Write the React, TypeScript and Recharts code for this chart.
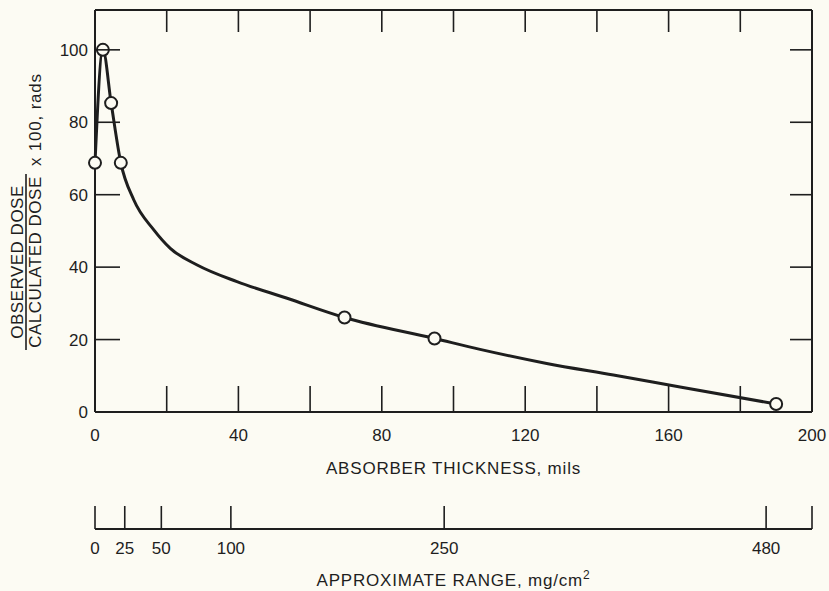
import { ComposedChart, Line, Scatter, XAxis, YAxis, Label } from 'recharts'

// curve (absorber thickness in mils, dose ratio x100)
const curveMils = [0, 2.2, 4.5, 7.2, 10.8, 16.4, 21, 28.5, 39.6, 53.6, 69.6, 94.7, 107.4, 126, 144.6, 163.2, 190]
const curveDose = [68.8, 100, 85.3, 68.8, 58.6, 50.3, 45.2, 40.6, 36, 31.4, 26.1, 20.3, 17.3, 13.4, 10.2, 6.9, 2.2]

// measured points (open circles)
const pointMils = [0, 2.2, 4.5, 7.2, 69.6, 94.7, 190]
const pointDose = [68.8, 100, 85.3, 68.8, 26.1, 20.3, 2.2]

const milsTicks = [0, 20, 40, 60, 80, 100, 120, 140, 160, 180, 200]
const doseTicks = [0, 20, 40, 60, 80, 100]

// secondary scale: approximate range in mg/cm2, placed at the matching thickness
const rangeLabels = ['0', '25', '50', '100', '250', '480', '']
const rangeAtMils = [0, 8.3, 18.5, 37.9, 97.4, 187.2, 200]

const curveData = curveMils.map((x, i) => ({ x, y: curveDose[i] }))
const pointData = pointMils.map((x, i) => ({ x, y: pointDose[i] }))

const ink = '#1e1e1e'
const paper = '#fcfbf3'
const font = '"Liberation Sans", Arial, Helvetica, sans-serif'

function MilsTick({ x, y, payload }: any) {
  const v = payload.value
  return (
    <g>
      {v > 0 && v < 200 && <line x1={x} x2={x} y1={y} y2={y - 26} stroke={ink} strokeWidth={1.6} />}
      {v % 40 === 0 && (
        <text x={x} y={y + 29} textAnchor="middle" fontSize={17} fill={ink} fontFamily={font}>
          {v}
        </text>
      )}
    </g>
  )
}

function TopTick({ x, y, payload }: any) {
  const v = payload.value
  if (v <= 0 || v >= 200) return <g />
  return <line x1={x} x2={x} y1={y} y2={y + 22} stroke={ink} strokeWidth={1.6} />
}

function DoseTick({ x, y, payload }: any) {
  const v = payload.value
  return (
    <g>
      {v > 0 && <line x1={x} x2={x + 25} y1={y} y2={y} stroke={ink} strokeWidth={1.6} />}
      <text x={x - 7} y={y + 6} textAnchor="end" fontSize={17} fill={ink} fontFamily={font}>
        {v}
      </text>
    </g>
  )
}

function RightTick({ x, y, payload }: any) {
  if (payload.value <= 0) return <g />
  return <line x1={x} x2={x - 22} y1={y} y2={y} stroke={ink} strokeWidth={1.6} />
}

function RangeTick({ x, y, index }: any) {
  return (
    <g>
      <line x1={x} x2={x} y1={y} y2={y - 23} stroke={ink} strokeWidth={1.6} />
      <text x={x} y={y + 25} textAnchor="middle" fontSize={17} fill={ink} fontFamily={font}>
        {rangeLabels[index] ?? ''}
      </text>
    </g>
  )
}

function DoseTitle({ viewBox }: any) {
  const mid = viewBox.y + 252
  return (
    <g fontFamily={font} fontSize={17} fill={ink} letterSpacing={0.5}>
      <text transform={`translate(23,${mid}) rotate(-90)`} textAnchor="middle">
        OBSERVED DOSE
      </text>
      <line x1={26} x2={26} y1={mid - 88} y2={mid + 88} stroke={ink} strokeWidth={1.6} />
      <text transform={`translate(41,${mid}) rotate(-90)`} textAnchor="middle">
        CALCULATED DOSE
      </text>
      <text transform={`translate(41,${mid - 96}) rotate(-90)`} letterSpacing={0.8}>
        x 100, rads
      </text>
    </g>
  )
}

function ThicknessTitle({ viewBox }: any) {
  return (
    <text
      x={viewBox.x + viewBox.width / 2}
      y={viewBox.y + 62}
      textAnchor="middle"
      fontSize={17}
      letterSpacing={0.8}
      fill={ink}
      fontFamily={font}
    >
      ABSORBER THICKNESS, mils
    </text>
  )
}

function RangeTitle({ viewBox }: any) {
  return (
    <text
      x={viewBox.x + viewBox.width / 2}
      y={viewBox.y + 57}
      textAnchor="middle"
      fontSize={17}
      letterSpacing={0.8}
      fill={ink}
      fontFamily={font}
    >
      APPROXIMATE RANGE, mg/cm
      <tspan dy={-7} fontSize={12}>
        2
      </tspan>
    </text>
  )
}

const frame = { stroke: ink, strokeWidth: 2 }

export default function App() {
  return (
    <div style={{ position: 'absolute', left: 0, top: 0, width: 829, height: 591, background: paper }}>
      <ComposedChart width={829} height={591} margin={{ top: 9, right: 16, bottom: 0, left: 0 }}>
        <XAxis
          xAxisId="main"
          dataKey="x"
          type="number"
          domain={[0, 200]}
          ticks={milsTicks}
          interval={0}
          height={117}
          tickSize={0}
          tickMargin={0}
          tickLine={false}
          axisLine={frame}
          tick={MilsTick}
        >
          <Label content={ThicknessTitle} />
        </XAxis>
        <XAxis
          xAxisId="range"
          dataKey="x"
          type="number"
          domain={[0, 200]}
          allowDataOverflow
          ticks={rangeAtMils}
          interval={0}
          height={62}
          tickSize={0}
          tickMargin={0}
          tickLine={false}
          axisLine={frame}
          tick={RangeTick}
        >
          <Label content={RangeTitle} />
        </XAxis>
        <XAxis
          xAxisId="top"
          orientation="top"
          dataKey="x"
          type="number"
          domain={[0, 200]}
          allowDataOverflow
          ticks={milsTicks}
          interval={0}
          height={1}
          tickSize={0}
          tickMargin={0}
          tickLine={false}
          axisLine={frame}
          tick={TopTick}
        />
        <YAxis
          yAxisId="left"
          type="number"
          domain={[0, 111]}
          ticks={doseTicks}
          interval={0}
          width={95}
          tickSize={0}
          tickMargin={0}
          tickLine={false}
          axisLine={frame}
          tick={DoseTick}
        >
          <Label content={DoseTitle} />
        </YAxis>
        <YAxis
          yAxisId="right"
          orientation="right"
          type="number"
          domain={[0, 111]}
          allowDataOverflow
          ticks={doseTicks}
          interval={0}
          width={1}
          tickSize={0}
          tickMargin={0}
          tickLine={false}
          axisLine={frame}
          tick={RightTick}
        />
        <Line
          xAxisId="main"
          yAxisId="left"
          data={curveData}
          dataKey="y"
          type="monotone"
          stroke={ink}
          strokeWidth={3}
          dot={false}
          activeDot={false}
          isAnimationActive={false}
        />
        <Scatter
          xAxisId="main"
          yAxisId="left"
          data={pointData}
          dataKey="y"
          isAnimationActive={false}
          shape={(p: any) => <circle cx={p.cx} cy={p.cy} r={6} fill={paper} stroke={ink} strokeWidth={2} />}
        />
      </ComposedChart>
    </div>
  )
}
